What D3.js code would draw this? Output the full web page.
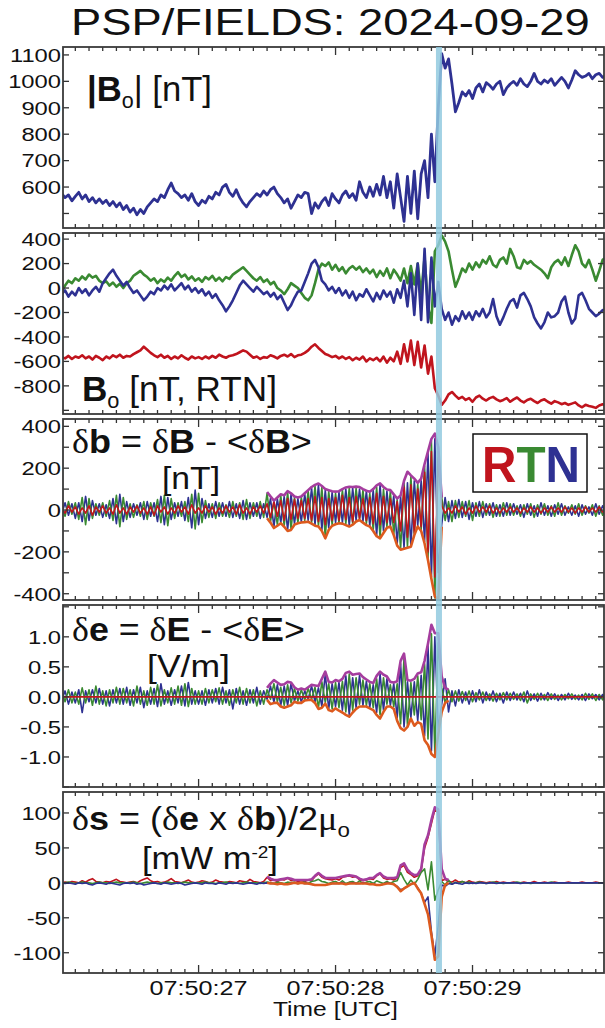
<!DOCTYPE html>
<html>
<head>
<meta charset="utf-8">
<script src="https://cdn.jsdelivr.net/npm/d3@7"></script>
<style>
body { margin: 0; background: #fff; }
svg { display: block; }
</style>
</head>
<body>
<div class="graph"></div>
<script>
// sample grid of the series (seconds after 07:50:00)
const t0 = 26.0, dt = 0.025;
const envStart = 60;                 // first sample of the envelope arrays
const bandTimes = [28.733, 28.777];
const secTicks = [27, 28, 29];
const secLabels = ["07:50:27", "07:50:28", "07:50:29"];

const magTicks = [500, 600, 700, 800, 900, 1000, 1100];
const magLabels = ["600", "700", "800", "900", "1000", "1100"];
const rtnTicks = [-1000, -800, -600, -400, -200, 0, 200, 400];
const rtnLabels = ["-800", "-600", "-400", "-200", "0", "200", "400"];
const dbTicks = [-400, -300, -200, -100, 0, 100, 200, 300, 400];
const dbLabels = ["-400", "-200", "0", "200", "400"];
const deTicks = [-1.5, -1.0, -0.5, 0, 0.5, 1.0, 1.5];
const deLabels = ["-1.0", "-0.5", "0.0", "0.5", "1.0"];
const dsTicks = [-100, -50, 0, 50, 100];
const dsLabels = ["-100", "-50", "0", "50", "100"];

// |B0|
const bMag = [575,560,570,548,565,580,555,570,545,560,540,555,538,
  550,530,545,525,540,515,530,505,520,495,515,500,525,
  540,555,545,570,560,590,615,585,575,560,
  570,550,575,545,530,550,540,565,555,580,
  570,600,610,580,565,590,560,540,525,545,
  560,575,565,585,570,590,600,575,560,540,
  555,520,545,570,560,580,575,500,540,520,
  545,560,530,575,555,540,570,585,560,575,
  550,620,580,560,600,565,610,570,640,560,
  620,520,650,560,470,640,500,660,480,650,
  700,560,800,620,900,
  1105,1050,1085,990,885,920,960,945,965,
  935,975,990,960,995,985,970,990,1000,950,
  975,990,1000,985,1010,990,980,1000,1030,1000,
  990,1005,995,1010,985,1000,1015,1000,975,1005,
  1040,1025,1015,1020,1030,1010,1025,1030,1015,1020];

// B0 RTN
const bR = [-565,-575,-555,-580,-560,-570,-550,-575,-560,-585,-555,-570,-590,-560,-575,-550,-565,-545,-570,-555,
  -560,-540,-525,-510,-480,-505,-530,-550,-565,-545,-570,-555,-580,-560,-575,-550,-570,-585,-560,-575,
  -565,-580,-560,-575,-555,-570,-545,-560,-570,-555,-550,-540,-525,-510,-520,-545,-570,-560,-580,-565,
  -570,-550,-560,-575,-555,-545,-560,-540,-565,-550,-545,-530,-510,-480,-460,-490,-515,-540,-550,-565,
  -555,-575,-560,-580,-565,-590,-570,-585,-560,-600,-575,-590,-570,-600,-560,-610,-570,-600,-520,-620,
  -460,-600,-430,-630,-440,-650,-470,-700,-560,-820,-880,
  -955,-920,-870,-850,-880,-905,-890,-915,-900,-930,-895,-880,-905,-920,-900,-890,-910,-925,-915,-900,
  -930,-910,-895,-920,-935,-915,-905,-925,-940,-920,-910,-930,-945,-925,-935,-950,-940,-955,-945,-935,
  -960,-975,-955,-965,-970,-980,-960,-950,-965];
const bT = [-30,20,60,40,80,60,95,70,110,85,100,60,40,55,20,45,10,35,0,40,
  60,100,120,140,110,90,60,80,40,70,50,85,60,100,130,90,110,70,95,60,
  80,50,90,70,100,60,85,55,90,75,110,130,150,170,140,110,80,60,90,50,
  70,30,50,0,-20,-50,-10,40,20,0,-40,-80,-100,-60,40,150,200,180,210,150,
  190,140,170,120,160,180,150,175,130,160,120,150,90,140,100,160,80,150,110,60,
  160,40,180,30,200,-50,250,-150,-285,300,350,
  430,380,300,150,10,80,160,130,200,150,210,170,230,200,260,190,170,230,250,200,
  320,260,170,160,230,200,220,190,170,150,120,80,170,210,230,190,250,180,270,350,
  300,200,170,230,150,60,140,230,250];
const bN = [-50,-20,-70,-30,-60,0,-40,-10,-60,-20,10,-30,40,80,120,150,100,60,20,50,
  0,-40,-20,-60,-100,-70,-30,-50,0,-20,20,-10,30,-20,10,40,-10,20,-30,0,
  -40,-10,-60,-30,-80,-50,-100,-140,-190,-150,-100,-40,20,60,30,0,-30,10,-20,-50,
  -30,-70,-40,-90,-60,-120,-180,-140,-80,-30,-20,50,120,200,230,170,60,30,-20,10,
  -40,0,-60,-20,-80,-30,-100,-50,-70,-10,-60,-110,-40,-90,-20,-70,-30,-120,-10,-80,
  60,-150,120,-220,200,-260,320,-280,250,-150,50,
  -170,-260,-200,-300,-230,-270,-190,-250,-200,-260,-190,-230,-170,-240,-200,-90,-230,-300,-240,-170,
  -110,-90,-160,-60,-40,-90,-150,-240,-290,-330,-280,-200,-240,-230,-200,-110,-70,-200,-290,-250,
  -60,-40,-100,-170,-200,-230,-210,-180,-180];

// delta b
const dbR = [10,-15,20,-10,15,-20,10,-15,20,-25,15,-10,20,-15,10,-20,25,-15,10,-20,
  15,-10,20,-15,10,-20,15,-25,20,-10,15,-20,10,-15,20,-10,15,-20,25,-15,
  10,-15,20,-10,15,-20,10,-15,20,-10,15,-20,25,-15,10,-20,15,-10,20,-15,
  30,-35,40,-30,45,-50,55,-45,50,-40,45,-40,55,-50,65,-55,60,-70,55,-50,
  60,-50,70,-45,60,-55,65,-40,55,-50,60,-65,80,-70,65,-60,55,-60,40,-100,
  110,-130,120,-110,100,-80,180,-200,280,-320,250,
  20,-15,10,-15,20,-10,15,-20,10,-15,20,-10,15,-10,20,-15,10,-15,10,-10,
  15,-10,10,-15,10,-10,15,-10,10,-15,10,-10,15,-10,10,-10,15,-10,10,-15,
  10,-10,15,-10,10,-10,15,-10,10];
const dbT = [25,-30,40,-20,35,-45,60,-70,55,-40,30,-25,35,-30,45,-50,70,-80,60,-45,
  30,-35,25,-30,40,-45,35,-30,50,-60,70,-75,55,-40,35,-30,40,-55,75,-90,
  80,-60,45,-35,30,-40,35,-30,25,-35,40,-30,35,-45,50,-40,35,-30,40,-35,
  80,-55,40,-70,70,-75,85,-90,60,-60,60,-50,90,-60,115,-75,110,-130,90,-70,
  80,-60,95,-65,105,-65,105,-45,95,-65,80,-95,110,-130,100,-80,90,-115,50,-185,
  130,-175,160,-115,125,-95,210,-230,330,-420,280,
  60,-50,40,-55,45,-35,40,-30,45,-50,35,-30,40,-25,30,-35,25,-30,35,-25,
  30,-25,20,-30,25,-20,30,-35,25,-20,30,-25,20,-30,35,-25,20,-15,25,-20,
  30,-25,20,-15,25,-30,20,-25,15];
const dbN = [-20,35,-25,30,-40,35,-55,65,-50,45,-25,30,-35,25,-40,55,-65,75,-55,40,
  -35,30,-25,35,-45,40,-30,35,-55,65,-70,60,-45,35,-30,40,-50,60,-85,95,
  -70,55,-40,30,-35,40,-30,35,-30,40,-35,30,-40,45,-45,35,-30,35,-40,30,
  -35,55,-80,55,-60,65,-95,75,-65,55,-55,75,-50,105,-70,120,-95,95,-85,85,
  -60,85,-60,100,-75,105,-50,100,-55,90,-75,95,-120,120,-100,90,-75,70,-160,65,
  -180,130,-170,140,-75,140,-150,270,-320,340,-300,
  -70,60,-55,45,-40,50,-35,40,-45,35,-30,40,-35,30,-25,35,-30,25,-30,35,
  -25,30,-20,25,-35,30,-25,20,-30,35,-25,20,-30,25,-20,30,-25,15,-25,20,
  -30,25,-20,15,-25,30,-20,20,-15];
const dbUpper = [86,65,45,60,75,70,90,80,65,60,65,80,95,110,120,127,115,100,95,90,
  88,90,100,108,111,110,112,110,100,92,87,100,118,127,110,98,95,75,55,70,
  140,183,165,150,130,150,220,280,340,365,300,60];
const dbLower = [-39,-60,-86,-75,-63,-80,-100,-95,-70,-63,-60,-58,-56,-65,-75,-79,-100,-135,-95,-75,
  -68,-63,-65,-72,-79,-70,-55,-48,-60,-72,-79,-100,-125,-135,-110,-85,-79,-120,-170,-190,
  -185,-180,-175,-120,-79,-100,-160,-240,-330,-413,-429,-80];

// delta e
const deR = [0,0,0,0,0,0,0,0,0,0,0,0,0,0,0,0,0,0,0,0,0,0,0,0,0,0,0,0,0,0,0,0,0,0,0,0,0,0,0,0,
  0,0,0,0,0,0,0,0,0,0,0,0,0,0,0,0,0,0,0,0,0,0,0,0,0,0,0,0,0,0,0,0,0,0,0,0,0,0,0,0,
  0,0,0,0,0,0,0,0,0,0,0,0,0,0,0,0,0,0,0,0,0,0,0,0,0,0,0,0,0,0,0,0,0,0,0,0,0,0,0,0,
  0,0,0,0,0,0,0,0,0,0,0,0,0,0,0,0,0,0,0,0,0,0,0,0,0,0,0,0,0,0,0,0,0,0,0,0,0,0,0,0];
const deT = [0.10,-0.08,0.12,-0.10,0.08,-0.12,0.15,-0.10,0.12,-0.14,0.18,-0.12,0.10,-0.15,0.12,-0.10,0.16,-0.12,0.14,-0.10,
  0.12,-0.15,0.18,-0.12,0.10,-0.14,0.16,-0.12,0.20,-0.15,0.12,-0.10,0.15,-0.12,0.18,-0.14,0.22,-0.16,0.14,-0.12,
  0.10,-0.12,0.14,-0.10,0.12,-0.08,0.15,-0.12,0.10,-0.14,0.12,-0.10,0.16,-0.12,0.14,-0.10,0.12,-0.15,0.10,-0.12,
  0.12,-0.04,0.22,-0.08,0.16,-0.14,0.20,-0.10,0.14,-0.07,0.12,-0.05,0.14,-0.04,0.16,-0.18,0.25,-0.09,0.22,-0.20,
  0.24,-0.18,0.26,-0.25,0.38,-0.22,0.32,-0.12,0.28,-0.14,0.22,-0.18,0.30,-0.30,0.32,-0.12,0.20,-0.16,0.22,-0.45,
  0.65,-0.48,0.24,-0.30,0.35,-0.38,0.55,-0.70,1.05,-0.95,0.90,
  0.15,-0.10,0.12,-0.08,0.10,-0.07,0.09,-0.06,0.10,-0.08,0.07,-0.05,0.08,-0.06,0.05,-0.07,0.06,-0.05,0.07,-0.05,
  0.06,-0.04,0.05,-0.06,0.08,-0.10,0.05,-0.04,0.06,-0.05,0.04,-0.06,0.05,-0.04,0.03,-0.05,0.04,-0.03,0.05,-0.04,
  0.03,-0.05,0.06,-0.04,0.05,-0.06,0.04,-0.05,0.06];
const deN = [-0.06,0.10,-0.12,0.08,-0.10,0.12,-0.26,0.10,-0.08,0.12,-0.10,0.14,-0.12,0.10,-0.15,0.12,-0.10,0.14,-0.12,0.16,
  -0.14,0.12,-0.10,0.16,-0.18,0.10,-0.12,0.14,-0.16,0.22,-0.12,0.10,-0.14,0.12,-0.10,0.18,-0.15,0.24,-0.12,0.10,
  -0.12,0.10,-0.14,0.12,-0.10,0.14,-0.12,0.16,-0.10,0.12,-0.20,0.14,-0.12,0.10,-0.14,0.12,-0.10,0.16,-0.12,0.10,
  -0.04,0.18,-0.09,0.20,-0.14,0.18,-0.14,0.22,-0.07,0.10,-0.08,0.10,-0.04,0.18,-0.08,0.15,-0.16,0.38,-0.20,0.22,
  -0.16,0.24,-0.22,0.35,-0.30,0.32,-0.18,0.36,-0.14,0.26,-0.17,0.20,-0.26,0.38,-0.22,0.30,-0.14,0.22,-0.35,0.55,
  -0.50,0.25,-0.34,0.25,-0.40,0.36,-0.65,0.85,-0.90,1.00,-0.55,
  -0.12,0.30,-0.25,0.10,-0.15,0.12,-0.10,0.08,-0.12,0.10,-0.08,0.12,-0.10,0.08,-0.06,0.10,-0.08,0.06,-0.10,0.08,
  -0.06,0.08,-0.05,0.06,-0.08,0.10,-0.06,0.05,-0.07,0.06,-0.05,0.07,-0.04,0.05,-0.06,0.04,-0.05,0.06,-0.04,0.03,
  -0.05,0.04,-0.06,0.05,-0.03,0.04,-0.05,0.04,-0.03];
const deUpper = [0.15,0.22,0.28,0.24,0.20,0.21,0.25,0.24,0.16,0.12,0.14,0.12,0.16,0.20,0.19,0.18,0.30,0.42,0.25,0.24,
  0.28,0.26,0.30,0.40,0.42,0.37,0.38,0.39,0.33,0.29,0.25,0.23,0.35,0.42,0.37,0.34,0.25,0.24,0.26,0.60,
  0.72,0.28,0.27,0.30,0.39,0.41,0.60,0.89,1.20,1.06,1.06,0.34,0.15,0.12];
const deLower = [-0.05,-0.12,-0.10,-0.10,-0.16,-0.18,-0.16,-0.14,-0.08,-0.10,-0.10,-0.06,-0.05,-0.05,-0.10,-0.20,-0.18,-0.11,-0.22,-0.24,
  -0.19,-0.23,-0.26,-0.30,-0.33,-0.26,-0.20,-0.16,-0.16,-0.16,-0.19,-0.22,-0.30,-0.36,-0.25,-0.16,-0.16,-0.20,-0.40,-0.52,
  -0.56,-0.50,-0.36,-0.48,-0.42,-0.45,-0.72,-0.80,-0.95,-1.00,-0.62,-0.25,-0.10,-0.06];

// delta s
const dsR = [0,1,0,2,1,0,3,1,4,6,2,1,0,2,1,3,5,2,1,0,
  1,2,0,3,5,7,3,1,2,0,1,3,6,2,1,0,2,4,1,0,
  1,3,2,0,1,4,2,1,0,2,1,0,3,2,1,5,2,1,0,2,
  8,3,4,2,5,4,7,3,4,2,3,2,4,3,9,13,8,6,5,4,
  6,4,8,9,10,8,9,4,3,4,6,5,10,13,7,5,6,4,7,22,
  25,15,12,8,10,18,50,65,85,105,100,
  3,5,2,1,4,1,2,0,3,1,0,2,1,0,1,0,2,0,1,0,
  0,1,0,0,1,0,0,2,0,0,1,0,0,1,0,0,0,1,0,0,
  0,1,0,0,0,1,0,0,0];
const dsT = [0,0,1,0,-1,0,1,0,0,-1,0,1,0,0,-1,0,1,0,0,0,
  0,1,0,-1,0,1,0,0,-1,0,0,1,0,0,-1,0,1,0,0,0,
  0,0,1,0,0,-1,0,0,1,0,0,0,-1,0,1,0,0,0,-1,0,
  1,0,-1,1,0,-1,1,0,1,-1,0,1,-1,2,3,5,2,1,-1,1,
  2,-1,3,-1,1,2,-1,3,-1,1,2,-1,3,1,-1,2,-1,2,3,15,
  5,-3,4,-2,5,15,20,-10,30,-25,-10,
  2,-3,4,-2,1,-1,2,0,1,-1,0,1,0,-1,0,1,0,0,-1,0,
  0,0,1,0,0,0,-1,0,0,0,0,0,1,0,0,0,0,0,0,0,
  0,0,0,0,0,0,0,0,0];
const dsN = [0,-1,0,-1,-2,0,-1,0,-2,-3,-1,0,-1,-2,0,-1,-2,-3,-1,0,
  -1,0,-2,-1,-3,-2,-1,0,-1,-2,0,-1,-2,-1,0,-1,-3,-2,-1,0,
  -1,-2,0,-1,-1,-2,0,-1,-2,0,-1,0,-1,-2,-1,0,-1,-2,0,-1,
  0,-1,-1,-2,-1,-2,-2,-1,0,-1,0,-1,-1,-2,-3,-3,-3,-3,-2,-1,
  -1,-1,0,-2,-1,0,-1,-1,0,-1,-2,-1,-3,-3,-2,0,-1,-2,-5,-10,
  -8,-5,-2,0,-7,-15,-28,-20,-70,-105,-60,
  -3,-5,-1,-2,0,-1,-2,0,-1,0,-1,0,0,-1,0,0,-1,0,0,0,
  0,0,0,-1,0,0,0,0,0,0,0,0,0,0,0,0,0,0,0,0,
  0,0,0,0,0,0,0,0,0];
const dsUpper = [9,6,4,4,5,6,7,6,4,4,4,4,4,5,10,14,10,7,7,7,
  7,8,9,10,11,10,9,6,4,5,7,7,11,14,9,7,7,7,8,25,
  28,19,14,11,12,20,55,68,90,108,105,20,6,4];
const dsLower = [0,-1,-1,-2,-1,-2,-2,-1,0,-1,0,-1,-1,-2,-3,-3,-3,-3,-2,-1,
  -1,-1,-1,-2,-1,-1,-1,-1,-1,-1,-2,-2,-3,-3,-2,-1,-1,-2,-6,-12,
  -8,-5,-2,0,-8,-15,-30,-45,-75,-110,-105,-20,-3,0];

const title = "PSP/FIELDS: 2024-09-29";
const legendLetters = ["R", "T", "N"];

const colR = "#c0141d", colT = "#3a8a32", colN = "#2e3192",
      colUp = "#a53d9e", colLo = "#dd5a1e", colBand = "#92cadf";
const sans = "'Liberation Sans', Arial, Helvetica, sans-serif";
const serif = "'Liberation Serif', 'DejaVu Serif', serif";

const W = 605, H = 1028;
const svg = d3.select(".graph").append("svg")
    .attr("width", W)
    .attr("height", H);

const x = d3.scaleLinear().domain([26.01, 29.96]).range([63, 604]);
const tOf = i => t0 + i * dt;

const panels = [
    { top: 47, bottom: 228, domain: [445, 1130], ticks: magTicks, labels: magLabels, lw: 2.8,
      series: [[bMag, colN]] },
    { top: 233, bottom: 414, domain: [-1030, 450], ticks: rtnTicks, labels: rtnLabels, lw: 2.6,
      series: [[bT, colT], [bN, colN], [bR, colR]] },
    { top: 419, bottom: 600, domain: [-430, 435], ticks: dbTicks, labels: dbLabels, lw: 1.6,
      series: [[dbN, colN], [dbT, colT], [dbR, colR]], env: [dbUpper, dbLower] },
    { top: 605, bottom: 787, domain: [-1.5, 1.53], ticks: deTicks, labels: deLabels, lw: 1.6,
      series: [[deN, colN], [deT, colT], [deR, colR]], env: [deUpper, deLower] },
    { top: 792, bottom: 973, domain: [-129, 130], ticks: dsTicks, labels: dsLabels, lw: 1.6,
      series: [[dsR, colR], [dsT, colT], [dsN, colN]], env: [dsUpper, dsLower] }
];

const minorX = d3.range(261, 300).map(d => d / 10);

panels.forEach((p, pi) => {
    const y = d3.scaleLinear().domain(p.domain).range([p.bottom, p.top]);
    const g = svg.append("g");

    svg.append("clipPath").attr("id", "clip" + pi)
        .append("rect")
        .attr("x", 63).attr("y", p.top)
        .attr("width", 541).attr("height", p.bottom - p.top);

    const plot = g.append("g").attr("clip-path", `url(#clip${pi})`);

    p.series.forEach(([vals, col]) => {
        const line = d3.line()
            .x((d, i) => x(tOf(i)))
            .y(d => y(d));
        plot.append("path")
            .attr("d", line(vals))
            .attr("fill", "none")
            .attr("stroke", col)
            .attr("stroke-width", p.lw)
            .attr("stroke-linejoin", "round");
    });

    if (p.env) {
        [[p.env[0], colUp], [p.env[1], colLo]].forEach(([vals, col]) => {
            const line = d3.line()
                .x((d, i) => x(tOf(envStart + i)))
                .y(d => y(d));
            plot.append("path")
                .attr("d", line(vals))
                .attr("fill", "none")
                .attr("stroke", col)
                .attr("stroke-width", 2.6)
                .attr("stroke-linejoin", "round");
        });
    }

    // ticks on all four sides, pointing inward
    minorX.forEach(t => {
        const major = secTicks.includes(Math.round(t * 10) / 10);
        const len = major ? 8 : 4;
        g.append("line").attr("x1", x(t)).attr("x2", x(t))
            .attr("y1", p.top).attr("y2", p.top + len)
            .attr("stroke", "#333").attr("stroke-width", 1.3);
        g.append("line").attr("x1", x(t)).attr("x2", x(t))
            .attr("y1", p.bottom).attr("y2", p.bottom - len)
            .attr("stroke", "#333").attr("stroke-width", 1.3);
    });
    p.ticks.forEach(v => {
        g.append("line").attr("x1", 63).attr("x2", 69)
            .attr("y1", y(v)).attr("y2", y(v))
            .attr("stroke", "#333").attr("stroke-width", 1.3);
        g.append("line").attr("x1", 604).attr("x2", 598)
            .attr("y1", y(v)).attr("y2", y(v))
            .attr("stroke", "#333").attr("stroke-width", 1.3);
    });
    p.labels.forEach(s => {
        g.append("text")
            .attr("transform", `translate(61,${y(+s) + 6.8}) scale(1.25,1)`)
            .attr("text-anchor", "end")
            .attr("font-family", sans)
            .attr("font-size", 19)
            .attr("fill", "#111")
            .text(s);
    });

    g.append("rect")
        .attr("x", 63).attr("y", p.top)
        .attr("width", 541).attr("height", p.bottom - p.top)
        .attr("fill", "none")
        .attr("stroke", "#3a3a3a")
        .attr("stroke-width", 1.8);
});

// shock marker band across all panels
svg.append("rect")
    .attr("x", x(bandTimes[0]))
    .attr("y", 47)
    .attr("width", x(bandTimes[1]) - x(bandTimes[0]))
    .attr("height", 973 - 47)
    .attr("fill", colBand)
    .attr("opacity", 0.85);

// x tick labels
secTicks.forEach((t, i) => {
    svg.append("text")
        .attr("transform", `translate(${x(t)},995) scale(1.2,1)`)
        .attr("text-anchor", "middle")
        .attr("font-family", sans)
        .attr("font-size", 21)
        .attr("fill", "#111")
        .text(secLabels[i]);
});

// stretch a text horizontally so it spans [x0, x0 + w]
function fitText(sel, x0, w) {
    const b = sel.node().getBBox();
    const s = w / b.width;
    sel.attr("transform", `translate(${x0 - b.x * s},0) scale(${s},1)`);
}

function richText(parts, fs, baseline) {
    const t = svg.append("text")
        .attr("x", 0).attr("y", baseline)
        .attr("font-family", sans)
        .attr("font-size", fs)
        .attr("fill", "#111")
        .style("white-space", "pre");
    let shift = 0;
    parts.forEach(p => {
        const ts = t.append("tspan").text(p.t);
        let target = 0;
        if (p.b) ts.attr("font-weight", "bold");
        if (p.g) ts.attr("font-family", serif);
        if (p.sub) { ts.attr("font-size", fs * 0.62); target = fs * 0.2; }
        if (p.sup) { ts.attr("font-size", fs * 0.55); target = -fs * 0.36; }
        if (target !== shift) { ts.attr("dy", target - shift); shift = target; }
    });
    return t;
}

fitText(svg.append("text").attr("x", 0).attr("y", 35)
    .attr("font-family", sans).attr("font-size", 36).attr("fill", "#111")
    .text(title), 71, 519);

fitText(richText([{ t: "|", b: 1 }, { t: "B", b: 1 }, { t: "o", sub: 1 }, { t: "| [nT]" }], 35, 101), 87, 125);
fitText(richText([{ t: "B", b: 1 }, { t: "o", sub: 1 }, { t: " [nT, RTN]" }], 35, 401), 82, 195);

fitText(richText([{ t: "δ", g: 1 }, { t: "b", b: 1 }, { t: " = " }, { t: "δ", g: 1 }, { t: "B", b: 1 },
    { t: " - <" }, { t: "δ", g: 1 }, { t: "B", b: 1 }, { t: ">" }], 34, 453), 72, 240);
fitText(richText([{ t: "[nT]" }], 31, 489), 162, 58);

fitText(richText([{ t: "δ", g: 1 }, { t: "e", b: 1 }, { t: " = " }, { t: "δ", g: 1 }, { t: "E", b: 1 },
    { t: " - <" }, { t: "δ", g: 1 }, { t: "E", b: 1 }, { t: ">" }], 34, 641), 72, 233);
fitText(richText([{ t: "[V/m]" }], 31, 677), 147, 83);

fitText(richText([{ t: "δ", g: 1 }, { t: "s", b: 1 }, { t: " = (" }, { t: "δ", g: 1 }, { t: "e", b: 1 },
    { t: " x " }, { t: "δ", g: 1 }, { t: "b", b: 1 }, { t: ")/2" }, { t: "μ", g: 1 }, { t: "o", sub: 1 }], 34, 830), 72, 278);
fitText(richText([{ t: "[mW m" }, { t: "-2", sup: 1 }, { t: "]" }], 31, 869), 142, 136);

// RTN legend
svg.append("rect")
    .attr("x", 473).attr("y", 434)
    .attr("width", 114).attr("height", 58)
    .attr("fill", "#fff")
    .attr("stroke", "#111")
    .attr("stroke-width", 1.5);
const leg = svg.append("text")
    .attr("x", 0).attr("y", 482)
    .attr("font-family", sans)
    .attr("font-size", 50)
    .attr("font-weight", "bold");
legendLetters.forEach((s, i) => {
    leg.append("tspan").attr("fill", [colR, colT, colN][i]).text(s);
});
fitText(leg, 482, 98);

fitText(svg.append("text").attr("x", 0).attr("y", 1016)
    .attr("font-family", sans).attr("font-size", 20).attr("fill", "#111")
    .text("Time [UTC]"), 273, 125);
</script>
</body>
</html>
